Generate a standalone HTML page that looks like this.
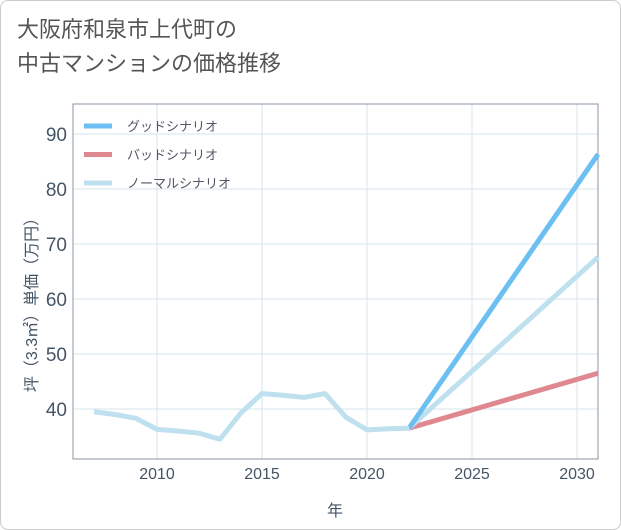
<!DOCTYPE html>
<html><head><meta charset="utf-8"><style>
body{margin:0;background:#fff;}
#wrap{position:relative;width:619px;height:528px;border:1px solid #ccc;border-radius:8px;overflow:hidden;background:#fff;font-family:"Liberation Sans","Noto Sans CJK JP",sans-serif;}
#title{position:absolute;left:16px;top:12px;font-size:22px;line-height:34px;color:#555;}
svg{position:absolute;left:0;top:0;}
</style></head><body>
<div id="wrap">
<div id="title">大阪府和泉市上代町の<br>中古マンションの価格推移</div>
<svg width="621" height="530">
<g id="grid"></g><g id="axes"></g><g id="series"></g><g id="legend"></g>
</svg>
</div>
<script>
const years=[2007,2008,2009,2010,2011,2012,2013,2014,2015,2016,2017,2018,2019,2020,2021,2022];
const normalHist=[39.5,39,38.3,36.3,36,35.6,34.5,39.3,42.8,42.5,42.1,42.8,38.5,36.2,36.4,36.5];
const scenYears=[2022,2031];
const goodVals=[36.5,86.3];
const badVals=[36.5,46.5];
const normalVals=[36.5,67.6];
const xTicks=[2010,2015,2020,2025,2030];
const yTicks=[40,50,60,70,80,90];
const legendLabels=["グッドシナリオ","バッドシナリオ","ノーマルシナリオ"];
const L=72,R=597,T=103,B=458;
const x=v=>156+(v-2010)*21;
const y=v=>408-(v-40)*5.5;
const NS="http://www.w3.org/2000/svg";
function mk(tag,attrs,parent,text){const e=document.createElementNS(NS,tag);for(const k in attrs)e.setAttribute(k,attrs[k]);if(text!==undefined)e.textContent=text;parent.appendChild(e);return e;}
const grid=document.getElementById('grid'),axes=document.getElementById('axes'),series=document.getElementById('series'),legend=document.getElementById('legend');
xTicks.forEach(t=>{const l=mk('line',{x1:x(t),x2:x(t),y1:T,y2:B,stroke:'#d6e4ee','stroke-width':1},grid);

const tx=mk('text',{x:x(t),y:B+20,'text-anchor':'middle','font-size':16,fill:'#445566'},axes,String(t));
});
yTicks.forEach(t=>{const l=mk('line',{x1:L,x2:R,y1:y(t),y2:y(t),stroke:'#d6e4ee','stroke-width':1},grid);

const tx=mk('text',{x:L-6,y:y(t)+7,'text-anchor':'end','font-size':19,fill:'#445566'},axes,String(t));
});
const fr=mk('rect',{x:L,y:T,width:R-L,height:B-T,fill:'none',stroke:'#8a96a3','stroke-width':1},axes);

const xt=mk('text',{x:334,y:515,'text-anchor':'middle','font-size':16,fill:'#445566'},axes,'年');

const yt=mk('text',{x:0,y:0,transform:'translate(36,300) rotate(-90)','text-anchor':'middle','font-size':16,fill:'#445566'},axes,'坪（3.3㎡）単価（万円）');

function line(xs,vs,color,name){const p=xs.map((v,i)=>x(v)+','+y(vs[i])).join(' ');
const e=mk('polyline',{points:p,fill:'none',stroke:color,'stroke-width':5,'stroke-linejoin':'round'},series);
}
line(scenYears,badVals,'#e08890','bad-scenario-line');
line(scenYears,normalVals,'#bfe0ee','normal-scenario-line');
line(scenYears,goodVals,'#6cbff2','good-scenario-line');
line(years,normalHist,'#bfe0ee','historical-line');
const colors=['#6cbff2','#e08890','#bfe0ee'];
legendLabels.forEach((lab,i)=>{const yy=125+i*28.5;
const s=mk('line',{x1:83,x2:111,y1:yy,y2:yy,stroke:colors[i],'stroke-width':5},legend);

const t=mk('text',{x:126,y:yy+5,'font-size':13,fill:'#556'},legend,lab);
});
</script>
</body></html>
